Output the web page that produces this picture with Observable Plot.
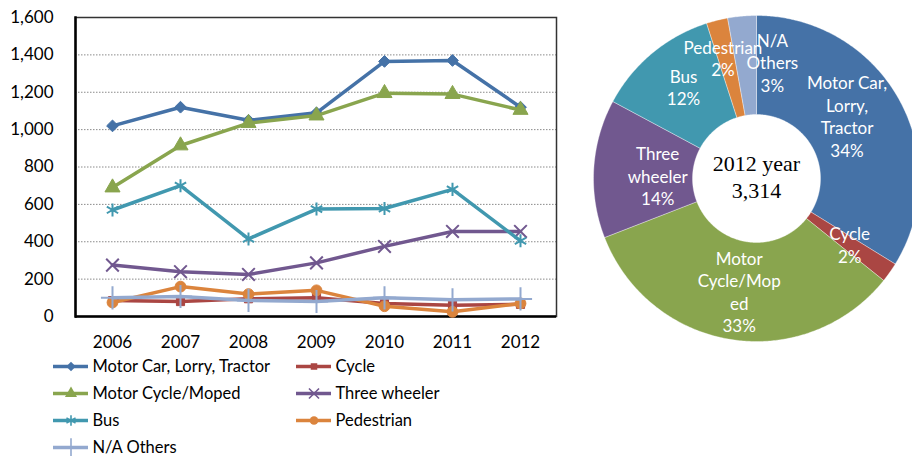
<!DOCTYPE html>
<html><head><meta charset="utf-8">
<script src="https://cdn.jsdelivr.net/npm/d3@7"></script>
<script src="https://cdn.jsdelivr.net/npm/@observablehq/plot@0.6"></script>
<style>
body{margin:0;background:#fff;font-family:Lato,sans-serif;}
#wrap{position:relative;width:912px;height:456px;overflow:hidden;background:#fff;}
#line{position:absolute;left:0;top:0;}
#legend{position:absolute;left:0;top:345px;}
#pie{position:absolute;left:580px;top:0;}
</style></head><body>
<div id="wrap"><div id="line"></div><div id="legend"></div><div id="pie"></div></div>
<script>
// ---- data ----
const years = [2006, 2007, 2008, 2009, 2010, 2011, 2012];
const seriesNames = ["Motor Car, Lorry, Tractor", "Cycle", "Motor Cycle/Moped", "Three wheeler", "Bus", "Pedestrian", "N/A Others"];
const motorCar     = [1020, 1120, 1050, 1090, 1365, 1370, 1120];
const cycle        = [85, 80, 95, 100, 70, 60, 65];
const motorCycle   = [690, 915, 1035, 1075, 1195, 1190, 1105];
const threeWheeler = [275, 240, 225, 287, 375, 455, 455];
const bus          = [570, 700, 415, 575, 578, 680, 405];
const pedestrian   = [75, 160, 120, 140, 55, 25, 70];
const naOthers     = [100, 107, 86, 80, 100, 89, 94];
const yTicks = [0, 200, 400, 600, 800, 1000, 1200, 1400, 1600];
const pieYear = 2012;
const pieLabels = ["Motor Car,\nLorry,\nTractor", "Cycle", "Motor\nCycle/Mop\ned", "Three\nwheeler", "Bus", "Pedestrian", "N/A\nOthers"];

// ---- styles ----
const seriesValues = [motorCar, cycle, motorCycle, threeWheeler, bus, pedestrian, naOthers];
const colors = ["#4572A7", "#AA4643", "#89A54E", "#71588F", "#4198AF", "#DB843D", "#93A9CF"];
const symbols = ["diamond2", "square", "triangle", "times", "asterisk", "circle", "plus"];
const filled = {diamond2: true, square: true, triangle: true, circle: true, times: false, asterisk: false, plus: false};
const symR = {diamond2: 5.3, square: 4.6, triangle: 5.6, circle: 5.4, times: 5.8, asterisk: 6.2, plus: 7.5};
// label placement tweaks (Excel-style best-fit)
const labelNudge = {
  "Motor Car, Lorry, Tractor": [-9, -7],
  "Three wheeler": [15, 4],
  "Bus": [0, -4],
  "Pedestrian": [-6, -10],
  "N/A Others": [26, -3]
};

const rows = seriesNames.flatMap((s, i) => years.map((y, j) => ({series: s, year: y, value: seriesValues[i][j]})));

// ---- line chart ----
const lineMarks = seriesNames.flatMap((s, i) => {
  const d = rows.filter(r => r.series === s);
  const sym = symbols[i];
  return [
    Plot.lineY(d, {x: "year", y: "value", stroke: colors[i], strokeWidth: 3.5}),
    Plot.dot(d, filled[sym]
      ? {x: "year", y: "value", symbol: () => sym, fill: colors[i], stroke: colors[i], strokeWidth: 1, r: symR[sym]}
      : {x: "year", y: "value", symbol: () => sym, stroke: colors[i], strokeWidth: 2, r: symR[sym]})
  ];
});

const linePlot = Plot.plot({
  width: 580, height: 345,
  marginLeft: 75, marginRight: 24, marginTop: 17, marginBottom: 29,
  style: {fontFamily: "Lato", fontSize: "17px", color: "#000", background: "transparent", overflow: "visible"},
  x: {type: "point", domain: years, padding: 0.5, label: null},
  y: {domain: [0, 1600], label: null},
  symbol: {type: "identity"},
  marks: [
    Plot.ruleY(yTicks.filter(t => t > 0 && t < 1600), {stroke: "#8a8a8a", strokeWidth: 1, strokeDasharray: "1.5,1.5"}),
    Plot.frame({stroke: "#333", strokeWidth: 1.5}),
    Plot.frame({anchor: "left", stroke: "#000", strokeWidth: 2.5}),
    Plot.ruleY([0], {stroke: "#000", strokeWidth: 2.5}),
    Plot.axisY({ticks: yTicks, tickSize: 0, tickPadding: 22, tickFormat: d3.format(","), fontSize: 17, label: null}),
    Plot.axisX({tickSize: 0, tickPadding: 19, fontSize: 17, label: null, tickFormat: d => String(d)}),
    ...lineMarks
  ]
});
document.getElementById("line").append(linePlot);

// ---- legend ----
const legendData = seriesNames.map((s, i) => ({series: s, col: i % 2, row: Math.floor(i / 2), i}));
const sw = 35 / 243;
const legendMarks = legendData.flatMap(d => {
  const sym = symbols[d.i];
  return [
    Plot.ruleY([d], {y: "row", x1: "col", x2: e => e.col + sw, stroke: colors[d.i], strokeWidth: 3.5}),
    Plot.dot([d], filled[sym]
      ? {x: e => e.col + sw / 2, y: "row", symbol: () => sym, fill: colors[d.i], r: symR[sym] * 0.8}
      : {x: e => e.col + sw / 2, y: "row", symbol: () => sym, stroke: colors[d.i], strokeWidth: 1.6, r: symR[sym] * 0.8}),
    Plot.text([d], {x: e => e.col + sw, y: "row", text: "series", dx: 4, textAnchor: "start", fontSize: 16.5, fill: "#000"})
  ];
});
const legendPlot = Plot.plot({
  width: 580, height: 111, margin: 0,
  style: {fontFamily: "Lato", background: "transparent", overflow: "visible"},
  x: {type: "linear", domain: [0, 1], range: [53, 296], axis: null},
  y: {type: "point", domain: [0, 1, 2, 3], range: [21, 102.5], padding: 0, axis: null},
  symbol: {type: "identity"},
  marks: legendMarks
});
document.getElementById("legend").append(legendPlot);

// ---- pie (doughnut) ----
const yi = years.indexOf(pieYear);
const pieData = seriesNames.map((s, i) => ({series: s, value: seriesValues[i][yi], label: pieLabels[i], color: colors[i]}));
const total = d3.sum(pieData, d => d.value);
const arcs = d3.pie().value(d => d.value).sort(null)(pieData);
const R = 163, R0 = 64, RL = 114;
const polys = arcs.flatMap(a => {
  const n = Math.max(4, Math.ceil((a.endAngle - a.startAngle) / 0.01));
  const pts = [];
  for (let k = 0; k <= n; k++) {
    const t = a.startAngle + (a.endAngle - a.startAngle) * k / n;
    pts.push({series: a.data.series, color: a.data.color, x: R * Math.sin(t), y: -R * Math.cos(t)});
  }
  for (let k = n; k >= 0; k--) {
    const t = a.startAngle + (a.endAngle - a.startAngle) * k / n;
    pts.push({series: a.data.series, color: a.data.color, x: R0 * Math.sin(t), y: -R0 * Math.cos(t)});
  }
  pts.push({...pts[0]});
  return pts;
});
const pieText = arcs.map(a => {
  const m = (a.startAngle + a.endAngle) / 2;
  const nd = labelNudge[a.data.series] || [0, 0];
  return {
    x: RL * Math.sin(m), y: -RL * Math.cos(m),
    text: a.data.label + "\n" + Math.round(a.data.value / total * 100) + "%",
    dx: nd[0], dy: nd[1]
  };
});
const piePlot = Plot.plot({
  width: 332, height: 350, margin: 0,
  style: {fontFamily: "Lato", background: "transparent"},
  x: {type: "linear", domain: [-176, 156], range: [0, 332], axis: null},
  y: {type: "linear", domain: [-178, 172], range: [0, 350], axis: null},
  marks: [
    Plot.line(polys, {x: "x", y: "y", z: "series", fill: "color", stroke: "#ffffff", strokeWidth: 0.6, strokeOpacity: 0.6, curve: "linear"}),
    ...pieText.map(t => Plot.text([t], {x: "x", y: "y", text: "text", dx: t.dx, dy: t.dy, fill: "#fff", fontSize: 17, lineHeight: 1.32, textAnchor: "middle", lineAnchor: "middle"})),
    Plot.text([{x: 0, y: 0, t: pieYear + " year\n" + d3.format(",")(total)}], {x: "x", y: "y", text: "t", dy: -3, fontFamily: "Liberation Serif", fontSize: 22, lineHeight: 1.23, fill: "#000", lineAnchor: "middle"})
  ]
});
document.getElementById("pie").append(piePlot);
</script>
</body></html>
